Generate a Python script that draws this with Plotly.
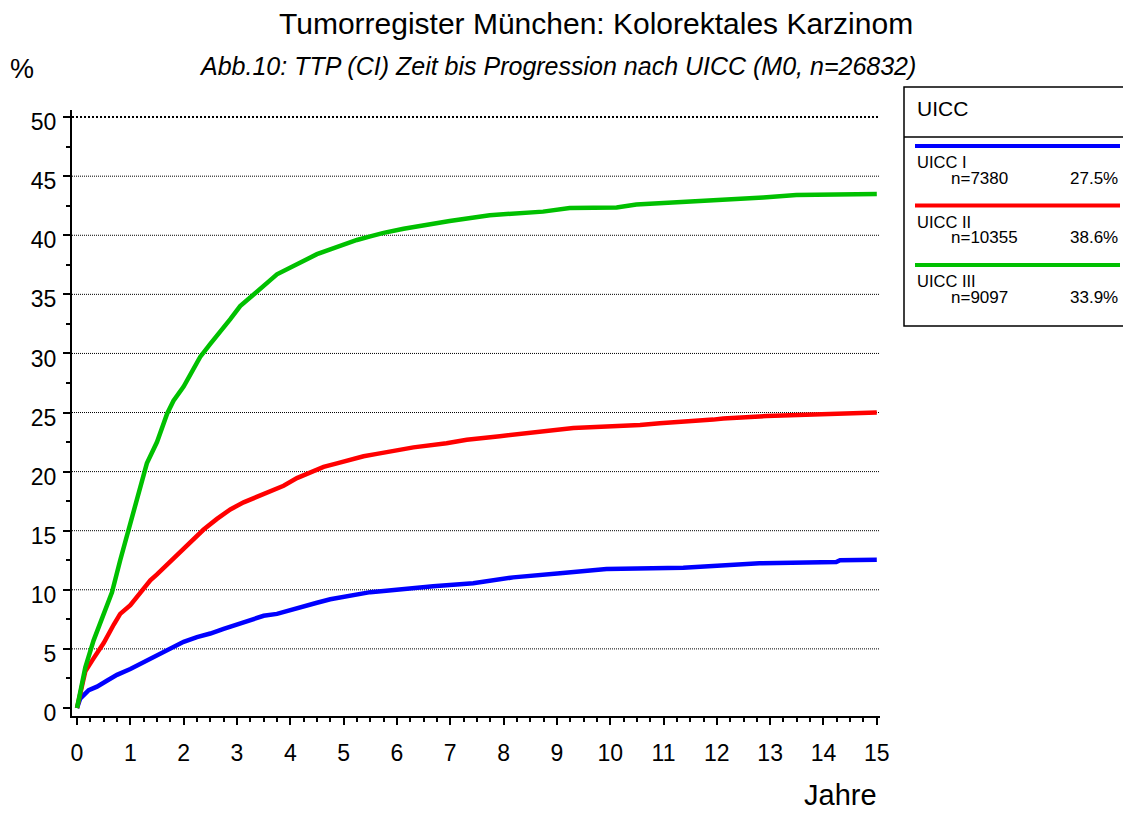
import plotly.graph_objects as go

# ---------------- data ----------------
groups = ["UICC I", "UICC II", "UICC III"]
n_values = [7380, 10355, 9097]
percent_labels = ["27.5%", "38.6%", "33.9%"]
colors = ["#0000FF", "#FF0000", "#00C000"]

years_I = [0, 0.06, 0.22, 0.375, 0.56, 0.75, 1.0, 1.25, 1.5, 1.75, 2.0, 2.25, 2.5, 2.75, 3.0,
           3.25, 3.5, 3.75, 4.0, 4.25, 4.5, 4.75, 5.0, 5.25, 5.5, 5.75, 6.06, 6.68, 7.43, 7.81,
           8.18, 9.06, 9.56, 9.93, 11.37, 11.81, 12.8, 14.24, 14.31, 15.0]
pct_I = [0, 0.8, 1.5, 1.8, 2.3, 2.8, 3.3, 3.9, 4.5, 5.0, 5.6, 6.0, 6.3, 6.7, 7.06,
         7.5, 7.8, 7.96, 8.3, 8.6, 8.9, 9.2, 9.4, 9.6, 9.8, 9.9, 10.04, 10.3, 10.55, 10.83,
         11.05, 11.4, 11.6, 11.76, 11.87, 12.0, 12.24, 12.35, 12.5, 12.55]

years_II = [0, 0.156, 0.31, 0.5, 0.69, 0.81, 1.0, 1.19, 1.375, 1.5, 1.75, 2.0, 2.19, 2.375,
            2.625, 2.875, 3.125, 3.375, 3.625, 3.875, 4.125, 4.375, 4.625, 4.875, 5.125, 5.375,
            5.625, 5.875, 6.06, 6.31, 6.93, 7.31, 7.93, 8.56, 8.93, 9.31, 10.56, 10.93, 11.93,
            12.12, 12.93, 13.87, 15.0]
pct_II = [0, 3.1, 4.2, 5.5, 7.06, 7.96, 8.7, 9.8, 10.8, 11.3, 12.35, 13.4, 14.3, 15.1,
          16.0, 16.8, 17.4, 17.9, 18.4, 18.8, 19.45, 19.9, 20.4, 20.7, 21.0, 21.3,
          21.5, 21.7, 21.77, 22.05, 22.4, 22.7, 23.0, 23.3, 23.5, 23.7, 23.94, 24.1, 24.4,
          24.5, 24.7, 24.85, 25.0]

years_III = [0, 0.156, 0.31, 0.5, 0.656, 0.81, 0.97, 1.125, 1.31, 1.5, 1.69, 1.81, 2.0, 2.125,
             2.31, 2.5, 2.69, 2.875, 3.06, 3.25, 3.44, 3.625, 3.75, 4.0, 4.25, 4.5, 4.75, 5.0,
             5.25, 5.5, 5.75, 6.125, 6.5, 6.99, 7.74, 8.74, 9.24, 10.12, 10.49, 11.37, 12.12,
             12.87, 13.49, 15.0]
pct_III = [0, 3.43, 5.7, 7.96, 9.78, 12.5, 15.2, 17.9, 20.7, 22.5, 24.9, 26.0, 27.2, 28.2,
           29.7, 30.8, 31.8, 32.9, 34.0, 34.7, 35.5, 36.2, 36.7, 37.3, 37.9, 38.4, 38.8, 39.25,
           39.6, 39.9, 40.2, 40.55, 40.85, 41.2, 41.7, 42.0, 42.3, 42.35, 42.6, 42.8, 43.0,
           43.2, 43.4, 43.5]

series_x = [years_I, years_II, years_III]
series_y = [pct_I, pct_II, pct_III]

x_ticks = list(range(0, 16))
y_ticks = list(range(0, 51, 5))

title_text = "Tumorregister München: Kolorektales Karzinom"
subtitle_text = "Abb.10: TTP (CI) Zeit bis Progression nach UICC (M0, n=26832)"
legend_title = "UICC"
x_title = "Jahre"
y_title = "%"

# ---------------- layout geometry (window pixels) ----------------
OFF = 8  # default page body margin
W, H = 1131 - OFF, 814 - OFF
PL, PR, PT, PB = 72, 880, 110, 716
FONT = "Liberation Sans, Arial, sans-serif"


def px(x):
    return (x - PL) / (PR - PL)


def py(y):
    return (PB - y) / (PB - PT)


fig = go.Figure()
for name, xs, ys, c in zip(groups, series_x, series_y, colors):
    fig.add_trace(go.Scatter(x=xs, y=ys, mode="lines", name=name,
                             line=dict(color=c, width=4.5),
                             showlegend=False))

shapes = []
# dotted horizontal grid lines
for v in y_ticks[1:]:
    top = v == y_ticks[-1]
    shapes.append(dict(type="line", xref="paper", yref="y", x0=0, x1=1, y0=v, y1=v,
                       line=dict(color="black", width=2 if top else 1,
                                 dash="2px,2px" if top else "1px,1px"),
                       layer="below"))


def txt(text, x, y, size, xanchor="center", italic=False):
    return dict(text=("<i>%s</i>" % text) if italic else text, x=px(x), y=py(y),
                xref="paper", yref="paper", xanchor=xanchor, yanchor="middle",
                showarrow=False, font=dict(family=FONT, size=size, color="black"))


annotations = [
    txt(title_text, 596, 23, 30),
    txt(subtitle_text, 557, 66, 25, italic=True),
    txt(y_title, 22, 69, 27),
    txt(x_title, 840, 795, 29),
]

# legend box
LX0, LX1, LY0, LY1, LSEP = 904, 1130, 87, 326, 137
shapes.append(dict(type="rect", xref="paper", yref="paper", x0=px(LX0), x1=px(LX1),
                   y0=py(LY1), y1=py(LY0), line=dict(color="black", width=1.5),
                   fillcolor="white", layer="above"))
shapes.append(dict(type="line", xref="paper", yref="paper", x0=px(LX0), x1=px(LX1),
                   y0=py(LSEP), y1=py(LSEP), line=dict(color="black", width=1.5)))
annotations.append(txt(legend_title, 915, 108, 21, xanchor="left"))
for i, (name, n, p, c) in enumerate(zip(groups, n_values, percent_labels, colors)):
    base = 146 + i * 59.5
    shapes.append(dict(type="line", xref="paper", yref="paper", x0=px(915), x1=px(1120),
                       y0=py(base), y1=py(base), line=dict(color=c, width=4)))
    annotations.append(txt(name, 915, base + 16, 16.5, xanchor="left"))
    annotations.append(txt(f"n={n}", 949, base + 32, 17, xanchor="left"))
    annotations.append(txt(p, 1120, base + 32, 17, xanchor="right"))

fig.update_layout(
    width=W, height=H,
    margin=dict(l=PL - OFF, r=W - (PR - OFF), t=PT - OFF, b=H - (PB - OFF), pad=0),
    paper_bgcolor="white", plot_bgcolor="white",
    showlegend=False,
    shapes=shapes, annotations=annotations,
    font=dict(family=FONT, color="black"),
    xaxis=dict(range=[-0.094, 15.06], tickvals=x_ticks, ticktext=[str(v) for v in x_ticks],
               showgrid=False, zeroline=False, showline=True, linecolor="black", linewidth=2,
               ticks="outside", ticklen=7, tickwidth=2, tickcolor="black",
               tickfont=dict(family=FONT, size=23, color="black"),
               ticklabelstandoff=8,
               minor=dict(dtick=0.25, tick0=0, ticks="outside", ticklen=4, tickwidth=2,
                          tickcolor="black", showgrid=False),
               fixedrange=True),
    yaxis=dict(range=[-0.68, 50.6], tickvals=y_ticks, ticktext=[str(v) for v in y_ticks],
               showgrid=False, zeroline=False, showline=True, linecolor="black", linewidth=2,
               ticks="outside", ticklen=7, tickwidth=2, tickcolor="black",
               tickfont=dict(family=FONT, size=23, color="black"),
               ticklabelshift=5, ticklabelstandoff=2,
               minor=dict(dtick=2.5, tick0=0, ticks="outside", ticklen=4, tickwidth=2,
                          tickcolor="black", showgrid=False),
               fixedrange=True),
)

fig.write_html("out.html")
